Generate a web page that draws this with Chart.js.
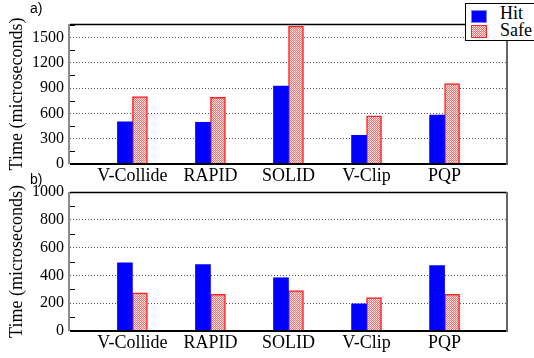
<!DOCTYPE html>
<html>
<head>
<meta charset="utf-8">
<script src="https://cdn.jsdelivr.net/npm/chart.js@4/dist/chart.umd.min.js"></script>
<style>
  body { margin: 0; background: #fff; overflow: hidden; }
  #wrap { position: relative; width: 534px; height: 358px; }
  canvas { position: absolute; left: 0; }
  #topChart { top: 0; }
  #bottomChart { top: 170px; }
  .panel { position: absolute; left: 30px; font: 14px "Liberation Sans", Arial, sans-serif; line-height: 14px; }
  #legend {
    position: absolute; left: 465px; top: 3px; width: 80px; height: 38px;
    background: #fff; border: 1px solid #000; box-sizing: border-box;
    font: 18px "Liberation Serif", "Times New Roman", serif;
  }
  .item { position: absolute; left: 5px; height: 17px; line-height: 17px; }
  .swatch { position: absolute; left: 0; width: 16px; height: 13px; box-sizing: border-box; }
  .item span.label { position: absolute; left: 29px; top: -2px; }
</style>
</head>
<body>
<div id="wrap">
  <canvas id="topChart" width="534" height="190"></canvas>
  <canvas id="bottomChart" width="534" height="188"></canvas>
  <div class="panel" style="top:1px">a)</div>
  <div class="panel" style="top:172px">b)</div>
  <div id="legend">
    <div class="item" style="top:3px">
      <div class="swatch" style="top:3px;background:#0000ff;border:1px solid #8080ff"></div>
      <span class="label">Hit</span>
    </div>
    <div class="item" style="top:20px">
      <div class="swatch" style="top:1px;border:1px solid #ff2020;background:repeating-conic-gradient(#ff6a6a 0 25%, #ffe8e8 0 50%) 0 0/2px 2px"></div>
      <span class="label">Safe</span>
    </div>
  </div>
</div>
<script>
const categories = ['V-Collide', 'RAPID', 'SOLID', 'V-Clip', 'PQP'];

// a) times
const hitA = [500, 495, 925, 340, 580];
const safeA = [800, 790, 1635, 570, 955];
const ticksA = [0, 300, 600, 900, 1200, 1500];

// b) times
const hitB = [490, 477, 383, 195, 471];
const safeB = [274, 264, 290, 240, 264];
const ticksB = [0, 200, 400, 600, 800, 1000];

const serif = 'Liberation Serif';
Chart.defaults.font.family = serif;
Chart.defaults.color = '#000';

function stipple() {
  const c = document.createElement('canvas');
  c.width = 2; c.height = 2;
  const g = c.getContext('2d');
  g.fillStyle = '#ffe8e8';
  g.fillRect(0, 0, 2, 2);
  g.fillStyle = '#ff6a6a';
  g.fillRect(0, 0, 1, 1);
  g.fillRect(1, 1, 1, 1);
  return g.createPattern(c, 'repeat');
}

// plot frame and the small inner ticks between gridlines
const framePlugin = {
  id: 'frame',
  afterDraw(chart, args, opts) {
    const { ctx, chartArea: a } = chart;
    const y = chart.scales.y;
    ctx.save();
    ctx.strokeStyle = '#000';
    ctx.lineWidth = 1;
    for (let i = 0; i < opts.ticks.length; i++) {
      const next = i + 1 < opts.ticks.length ? opts.ticks[i + 1] : opts.ticks[i] + (opts.ticks[1] - opts.ticks[0]);
      const v = (opts.ticks[i] + next) / 2;
      if (v > y.max) continue;
      const py = Math.round(y.getPixelForValue(v)) + 0.5;
      ctx.beginPath();
      ctx.moveTo(a.left, py);
      ctx.lineTo(a.left + 5, py);
      ctx.stroke();
    }
    ctx.lineWidth = 1.5;
    ctx.beginPath();
    ctx.moveTo(a.left, a.top + 0.5);
    ctx.lineTo(a.right, a.top + 0.5);
    ctx.stroke();
    ctx.lineWidth = 2;
    ctx.beginPath();
    ctx.moveTo(a.left, a.bottom);
    ctx.lineTo(a.right, a.bottom);
    ctx.stroke();
    ctx.strokeStyle = '#666';
    ctx.lineWidth = 1.5;
    ctx.beginPath();
    ctx.moveTo(a.left - 1, a.top);
    ctx.lineTo(a.left - 1, a.bottom);
    ctx.stroke();
    ctx.lineWidth = 2;
    ctx.beginPath();
    ctx.moveTo(a.right, a.top);
    ctx.lineTo(a.right, a.bottom + 1);
    ctx.stroke();
    ctx.restore();
  }
};

function makeChart(id, hit, safe, ticks, yMax, padTop, xHeight) {
  const pattern = stipple();
  return new Chart(document.getElementById(id), {
    type: 'bar',
    data: {
      datasets: [
        {
          label: 'Hit',
          data: hit.map((v, i) => ({ x: i, y: v })),
          backgroundColor: '#0000ff',
          borderColor: '#0000ff',
          borderWidth: 0,
          barThickness: 15
        },
        {
          label: 'Safe',
          data: safe.map((v, i) => ({ x: i, y: v })),
          backgroundColor: pattern,
          borderColor: '#ff2020',
          borderWidth: 1.5,
          barThickness: 15
        }
      ]
    },
    plugins: [framePlugin],
    options: {
      responsive: false,
      animation: false,
      layout: { padding: { top: padTop, right: 27, left: 0, bottom: 0 } },
      plugins: {
        legend: { display: false },
        tooltip: { enabled: false },
        frame: { ticks }
      },
      scales: {
        x: {
          type: 'linear',
          offset: false,
          min: -0.8,
          max: 4.8,
          grid: { display: false, drawTicks: false },
          border: { display: false },
          afterBuildTicks: s => { s.ticks = categories.map((c, i) => ({ value: i })); },
          afterFit: s => { s.height = xHeight; },
          ticks: {
            autoSkip: false,
            maxRotation: 0,
            padding: 1,
            color: '#000',
            font: { family: serif, size: 18, weight: 'normal' },
            callback: v => categories[v]
          }
        },
        y: {
          min: 0,
          max: yMax,
          afterBuildTicks: s => { s.ticks = ticks.map(v => ({ value: v })); },
          afterFit: s => { s.width = 70; },
          grid: { color: '#555', lineWidth: 1, drawTicks: false },
          border: { display: false, dash: [1, 2] },
          ticks: {
            padding: 6,
            color: '#000',
            font: { family: serif, size: 16, weight: 'normal' },
            callback: v => String(v)
          },
          title: {
            display: true,
            text: 'Time (microseconds)',
            color: '#000',
            padding: { top: 6, bottom: 0 },
            font: { family: serif, size: 18, weight: 'normal' }
          }
        }
      }
    }
  });
}

makeChart('topChart', hitA, safeA, ticksA, 1660, 24, 26);
makeChart('bottomChart', hitB, safeB, ticksB, 1000, 22, 27);
</script>
</body>
</html>
